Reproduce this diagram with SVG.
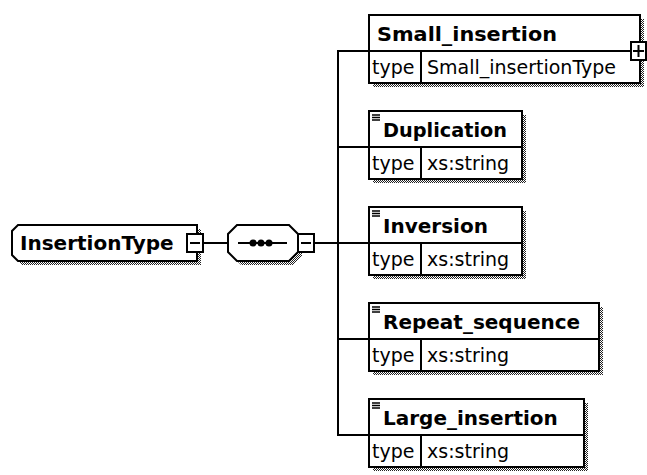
<svg xmlns="http://www.w3.org/2000/svg" width="647" height="475" viewBox="0 0 647 475">
<defs>
<pattern id="dots" width="2" height="2" patternUnits="userSpaceOnUse"><rect width="1" height="1" fill="#222"/><rect x="1" y="1" width="1" height="1" fill="#222"/></pattern>
</defs>
<style>
.box{fill:#fff;stroke:#000;stroke-width:2}
.ln{stroke:#000;stroke-width:2;fill:none}
.ic{stroke:#000;stroke-width:1.5;fill:none}
.sh{fill:url(#dots)}
.hd{font-family:"DejaVu Sans",sans-serif;font-weight:bold;font-size:20px;fill:#000}
.ty{font-family:"DejaVu Sans",sans-serif;font-size:19px;fill:#000}
</style>
<rect width="647" height="475" fill="#fff"/>
<g id="connectors" class="ln">
<line x1="203" y1="243" x2="228" y2="243"/>
<line x1="314" y1="243" x2="338" y2="243"/>
<path d="M369 51 H338 V435 H369 M338 147 H369 M338 243 H369 M338 339 H369"/>
</g>
<g id="InsertionType">
<path class="sh" d="M22 229 H201 V265 H22 L16 259 V235 Z"/>
<path class="box" d="M18 225 H197 V261 H18 L12 255 V231 Z"/>
<text class="hd" x="20" y="250">InsertionType</text>
<rect class="box" x="187" y="234" width="16" height="18"/>
<line class="ln" x1="190" y1="243" x2="200" y2="243"/>
</g>
<g id="sequence">
<path class="sh" d="M241 229 H293 L302 238 V256 L293 265 H241 L232 256 V238 Z"/>
<path class="box" d="M237 225 H289 L298 234 V252 L289 261 H237 L228 252 V234 Z"/>
<line class="ln" x1="238" y1="243" x2="287" y2="243"/>
<circle cx="253" cy="243" r="3.5"/>
<circle cx="261" cy="243" r="3.5"/>
<circle cx="269" cy="243" r="3.5"/>
<rect class="box" x="298" y="234" width="16" height="18"/>
<line class="ln" x1="301" y1="243" x2="311" y2="243"/>
</g>
<g id="Small_insertion">
<rect class="sh" x="373" y="19" width="271" height="68"/>
<rect class="box" x="369" y="15" width="271" height="68"/>
<line class="ln" x1="369" y1="51" x2="640" y2="51"/>
<line class="ln" x1="421" y1="51" x2="421" y2="83"/>
<text class="hd" x="377" y="41" textLength="180" lengthAdjust="spacingAndGlyphs">Small_insertion</text>
<text class="ty" x="372" y="74">type</text>
<text class="ty" x="427" y="74">Small_insertionType</text>
<rect class="box" x="631" y="42" width="15" height="18"/>
<path class="ln" d="M633 51 H644 M638.5 45 V57"/>
</g>
<g id="Duplication">
<rect class="sh" x="373" y="115" width="153" height="68"/>
<rect class="box" x="369" y="111" width="153" height="68"/>
<line class="ln" x1="369" y1="147" x2="522" y2="147"/>
<line class="ln" x1="421" y1="147" x2="421" y2="179"/>
<path class="ic" d="M372 115 h8 M372 117.5 h8 M372 120 h8"/>
<text class="hd" x="383" y="137" textLength="124" lengthAdjust="spacingAndGlyphs">Duplication</text>
<text class="ty" x="372" y="170">type</text>
<text class="ty" x="427" y="170">xs:string</text>
</g>
<g id="Inversion">
<rect class="sh" x="373" y="211" width="153" height="68"/>
<rect class="box" x="369" y="207" width="153" height="68"/>
<line class="ln" x1="369" y1="243" x2="522" y2="243"/>
<line class="ln" x1="421" y1="243" x2="421" y2="275"/>
<path class="ic" d="M372 211 h8 M372 213.5 h8 M372 216 h8"/>
<text class="hd" x="383" y="233">Inversion</text>
<text class="ty" x="372" y="266">type</text>
<text class="ty" x="427" y="266">xs:string</text>
</g>
<g id="Repeat_sequence">
<rect class="sh" x="373" y="307" width="230" height="68"/>
<rect class="box" x="369" y="303" width="230" height="68"/>
<line class="ln" x1="369" y1="339" x2="599" y2="339"/>
<line class="ln" x1="421" y1="339" x2="421" y2="371"/>
<path class="ic" d="M372 307 h8 M372 309.5 h8 M372 312 h8"/>
<text class="hd" x="383" y="329">Repeat_sequence</text>
<text class="ty" x="372" y="362">type</text>
<text class="ty" x="427" y="362">xs:string</text>
</g>
<g id="Large_insertion">
<rect class="sh" x="373" y="403" width="215" height="68"/>
<rect class="box" x="369" y="399" width="215" height="68"/>
<line class="ln" x1="369" y1="435" x2="584" y2="435"/>
<line class="ln" x1="421" y1="435" x2="421" y2="467"/>
<path class="ic" d="M372 403 h8 M372 405.5 h8 M372 408 h8"/>
<text class="hd" x="383" y="425">Large_insertion</text>
<text class="ty" x="372" y="458">type</text>
<text class="ty" x="427" y="458">xs:string</text>
</g>
</svg>
